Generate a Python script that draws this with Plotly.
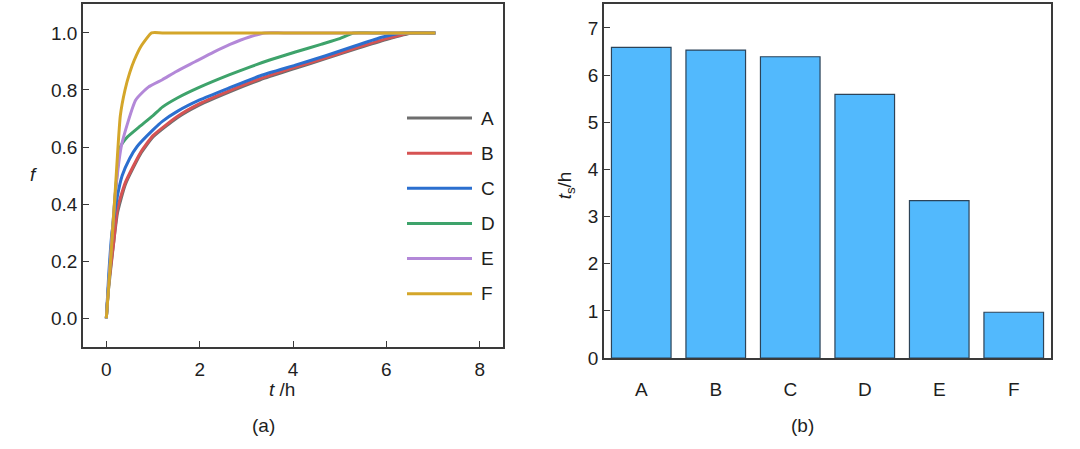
import plotly.graph_objects as go

W, H = 1080, 449

# ---- Panel (a) data: f vs t ----
series_names = ["A", "B", "C", "D", "E", "F"]
series_colors = ["#6e6e6e", "#d65353", "#2b6fcf", "#3ea36b", "#b388d8", "#d4a62a"]

t_A = [0, 0.04, 0.14, 0.24, 0.41, 0.73, 1.0, 1.52, 2.0, 2.63, 3.3, 4.05, 4.7, 5.4, 6.0, 6.55, 6.9, 7.05]
f_A = [0, 0.09, 0.24, 0.37, 0.47, 0.575, 0.635, 0.703, 0.748, 0.793, 0.836, 0.876, 0.91, 0.947, 0.977, 1.0, 1.0, 1.0]

t_B = [0, 0.05, 0.16, 0.24, 0.41, 0.73, 1.0, 1.52, 2.0, 2.63, 3.3, 4.05, 4.7, 5.4, 6.0, 6.5, 6.9, 7.05]
f_B = [0, 0.12, 0.27, 0.386, 0.477, 0.58, 0.64, 0.707, 0.752, 0.797, 0.84, 0.88, 0.913, 0.95, 0.98, 1.0, 1.0, 1.0]

t_C = [0, 0.05, 0.12, 0.24, 0.34, 0.5, 0.66, 1.0, 1.2, 1.52, 2.0, 2.63, 3.3, 4.05, 4.7, 5.34, 5.9, 6.35, 6.7, 7.05]
f_C = [0, 0.15, 0.3, 0.43, 0.5, 0.56, 0.602, 0.66, 0.69, 0.725, 0.765, 0.807, 0.85, 0.887, 0.92, 0.955, 0.985, 1.0, 1.0, 1.0]

t_D = [0, 0.1, 0.2, 0.3, 0.45, 0.7, 1.0, 1.2, 1.52, 2.0, 2.63, 3.0, 3.5, 4.05, 4.6, 5.0, 5.3, 5.7, 7.05]
f_D = [0, 0.24, 0.45, 0.6, 0.635, 0.67, 0.71, 0.74, 0.772, 0.81, 0.853, 0.876, 0.905, 0.933, 0.96, 0.98, 1.0, 1.0, 1.0]

t_E = [0, 0.1, 0.2, 0.33, 0.63, 0.9, 1.2, 1.5, 1.9, 2.3, 2.65, 3.05, 3.4, 3.8, 7.05]
f_E = [0, 0.24, 0.45, 0.61, 0.765, 0.81, 0.836, 0.865, 0.899, 0.933, 0.96, 0.985, 1.0, 1.0, 1.0]

t_F = [0, 0.1, 0.2, 0.3, 0.4, 0.5, 0.6, 0.75, 0.97, 1.2, 7.05]
f_F = [0, 0.22, 0.47, 0.71, 0.80, 0.86, 0.905, 0.955, 1.0, 1.0, 1.0]

series_t = [t_A, t_B, t_C, t_D, t_E, t_F]
series_f = [f_A, f_B, f_C, f_D, f_E, f_F]

x_ticks_a = [0, 2, 4, 6, 8]
y_ticks_a = [0.0, 0.2, 0.4, 0.6, 0.8, 1.0]

# ---- Panel (b) data: settling time ----
categories = ["A", "B", "C", "D", "E", "F"]
ts_values = [6.59, 6.53, 6.39, 5.59, 3.34, 0.97]
y_ticks_b = [0, 1, 2, 3, 4, 5, 6, 7]

FONT = "Liberation Sans, Arial, sans-serif"
FS = 19
TXT = "#1e1e1e"
AX = "#3a3a3a"

fig = go.Figure()
for name, t, f, c in zip(series_names, series_t, series_f, series_colors):
    fig.add_trace(go.Scatter(x=t, y=f, mode="lines", name=name,
                             line=dict(color=c, width=3, shape="spline", smoothing=0.5),
                             xaxis="x", yaxis="y", showlegend=False))

fig.add_trace(go.Bar(x=categories, y=ts_values, xaxis="x2", yaxis="y2",
                     width=0.8, showlegend=False,
                     marker=dict(color="#52b9fd", line=dict(color="#2c4358", width=1.2))))

def px(x):
    return x / W

def py(y):
    return 1 - y / H

axis_common = dict(showline=True, linecolor=AX, linewidth=1.5, mirror=True,
                   showgrid=False, zeroline=False,
                   tickfont=dict(family=FONT, size=FS, color=TXT))

fig.update_layout(
    width=W, height=H,
    margin=dict(l=0, r=0, t=0, b=0, pad=0),
    paper_bgcolor="white", plot_bgcolor="white",
    xaxis=dict(domain=[px(83), px(503)], range=[-0.5, 8.5], tickvals=x_ticks_a,
               ticks="inside", ticklen=6, tickcolor=AX, tickwidth=1.2,
               ticklabelstandoff=5, anchor="y", **axis_common),
    yaxis=dict(domain=[py(355.5), py(4.5)], range=[-0.1, 1.1], tickvals=y_ticks_a,
               tickformat=".1f", ticks="inside", ticklen=6, tickcolor=AX, tickwidth=1.2,
               anchor="x", **axis_common),
    xaxis2=dict(domain=[px(604), px(1051)], range=[-0.5, 5.5], ticks="",
                ticklabelstandoff=13, anchor="y2", **axis_common),
    yaxis2=dict(domain=[py(367), py(4.5)], range=[0, 7.5], tickvals=y_ticks_b,
                ticks="inside", ticklen=6, tickcolor=AX, tickwidth=1.2,
                anchor="x2", **axis_common),
)

annotations = [
    dict(x=px(282), y=py(399), text="<i>t</i> /h"),
    dict(x=px(33), y=py(179), text="<i>f</i>"),
    dict(x=px(566), y=py(190), text="<i>t</i><sub>s</sub>/h", textangle=-90),
    dict(x=px(263), y=py(436), text="(a)"),
    dict(x=px(802), y=py(436), text="(b)"),
]

shapes = []
leg_y0 = 121
leg_dy = 36
for i, (name, c) in enumerate(zip(series_names, series_colors)):
    yy = leg_y0 + leg_dy * i
    shapes.append(dict(type="line", xref="paper", yref="paper",
                       x0=px(407), x1=px(472), y0=py(yy), y1=py(yy),
                       line=dict(color=c, width=3)))
    annotations.append(dict(x=px(479), y=py(yy), text=name, xanchor="left"))

for a in annotations:
    a.setdefault("xref", "paper")
    a.setdefault("yref", "paper")
    a.setdefault("showarrow", False)
    a.setdefault("xanchor", "center")
    a.setdefault("yanchor", "middle")
    a["font"] = dict(family=FONT, size=FS, color=TXT)

fig.update_layout(annotations=annotations, shapes=shapes)

fig.write_html("out.html")
